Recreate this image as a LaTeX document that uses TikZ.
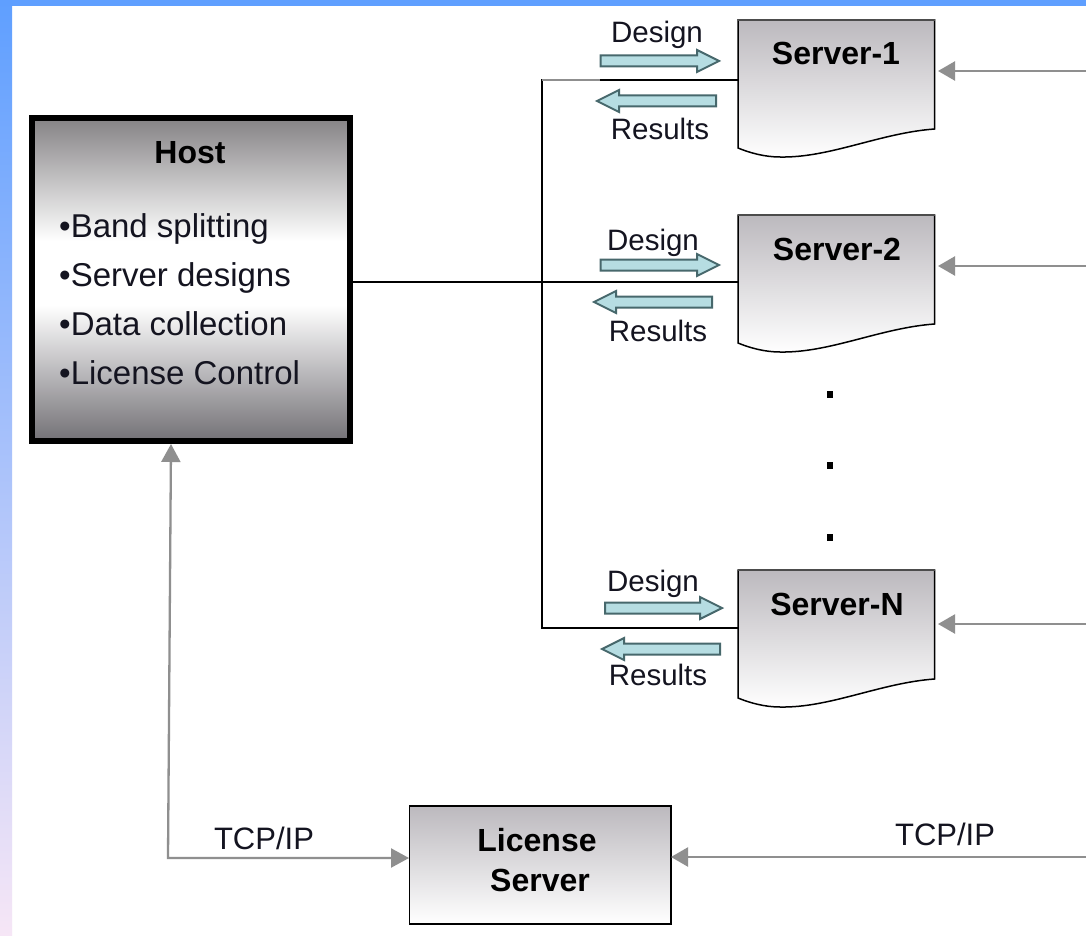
\documentclass[tikz,border=0pt]{standalone}
\usepackage{fontspec}
\setmainfont{Liberation Sans}
\usetikzlibrary{arrows.meta}
\definecolor{bgblue}{HTML}{5F9FFF}
\definecolor{bgpink}{HTML}{F6E6F6}
\definecolor{boxgray}{HTML}{BCB9BE}
\definecolor{hostgray}{HTML}{858385}
\definecolor{hostdark}{HTML}{737176}
\definecolor{linegray}{HTML}{8F8F8F}
\definecolor{arrowfill}{HTML}{B6DDE2}
\definecolor{arrowedge}{HTML}{47686C}
\definecolor{inktext}{HTML}{141420}
\pgfdeclareverticalshading{hostshade}{100bp}{
  color(0bp)=(hostdark); color(25bp)=(hostdark); color(46bp)=(white);
  color(56bp)=(white); color(75bp)=(hostgray); color(100bp)=(hostgray)}
\tikzset{
  x=1pt,y=-1pt,
  txt/.style={font=\fontsize{#1}{#1}\selectfont,text=inktext,inner sep=0pt,anchor=center},
  label/.style={txt=29.5},
  bullet/.style={txt=33,anchor=base west},
  head/.style={font=\fontsize{32}{32}\bfseries\selectfont,text=black,inner sep=0pt,anchor=center},
  anchorbox/.style={draw=none,inner sep=0pt,outer sep=0pt,rectangle},
  boxshade/.style={top color=boxgray,bottom color=white,shading angle=0},
  greyarrow/.style={draw=linegray,line width=2.3pt,-{Triangle[length=17pt,width=19pt,color=linegray]}},
  feed/.style={draw=black,line width=2pt},
  blockarrow/.style={draw=arrowedge,fill=arrowfill,line width=2pt,line join=miter},
  dotmark/.style={fill=black,inner sep=0pt,minimum width=6pt,minimum height=7pt,rectangle},
}
% #1 name, #2 top y, #3 label, #4 label y, #5 label x
\newcommand{\serverdoc}[5]{%
  \path[boxshade,draw=black,line width=1.5pt]
    (738,#2) -- (934.5,#2) -- (934.5,#2+109)
    .. controls (880,#2+113) and (830,#2+138) .. (780,#2+137)
    .. controls (765,#2+137) and (750,#2+133) .. (738,#2+128) -- cycle;
  \draw[draw=black!70,line width=2.2pt] (738,#2) -- (934.5,#2);
  \node[anchorbox,minimum width=197pt,minimum height=128pt,anchor=north west] (#1) at (738,#2) {};
  \node[head] (#1t) at (#5,#4) {#3};
}
% #1 x tail, #2 x tip, #3 y
\newcommand{\rarrow}[3]{%
  \draw[blockarrow] (#1,#3-5.5) -- (#2-22,#3-5.5) -- (#2-22,#3-11) -- (#2,#3) -- (#2-22,#3+11) -- (#2-22,#3+5.5) -- (#1,#3+5.5) -- cycle;}
\newcommand{\larrow}[3]{%
  \draw[blockarrow] (#1,#3-5.5) -- (#2+22,#3-5.5) -- (#2+22,#3-11) -- (#2,#3) -- (#2+22,#3+11) -- (#2+22,#3+5.5) -- (#1,#3+5.5) -- cycle;}
\begin{document}
\begin{tikzpicture}
\useasboundingbox (0,0) rectangle (1086,936);
\fill[white] (0,0) rectangle (1086,936);
\shade[top color=bgblue,bottom color=bgpink,shading angle=0] (0,0) rectangle (12,936);
\fill[bgblue] (0,0) rectangle (1086,6);

% Host
\node[anchorbox,minimum width=323pt,minimum height=330pt,anchor=north west] (host) at (29,114) {};
\path[shading=hostshade,draw=black,line width=6.5pt] (32,118) rectangle (350,441);
\node[head] (hostt) at (190,153) {Host};
\node[bullet] (b1) at (59,237) {•Band splitting};
\node[bullet] (b2) at (59,286) {•Server designs};
\node[bullet] (b3) at (59,335) {•Data collection};
\node[bullet] (b4) at (59,384) {•License Control};

% Servers
\serverdoc{s1}{20}{Server-1}{53}{836}
\serverdoc{s2}{215}{Server-2}{249}{837}
\serverdoc{sn}{570}{Server-N}{604}{837}

% Licence server
\node[anchorbox,minimum width=262pt,minimum height=118pt,anchor=north west] (lic) at (409,806) {};
\path[boxshade,draw=black,line width=1.6pt] (409.5,806) rectangle (671,924);
\node[head] (lict1) at (537,840) {License};
\node[head] (lict2) at (540,880) {Server};

% Bus
\coordinate (busN) at (542,80);
\coordinate (busS) at (542,628);
\draw[feed] (s1.west |- busN) -- (busN) -- (busS) -- (sn.west |- busS);
\draw[draw=linegray,line width=2pt] (busN) -- (600,80);
\coordinate (hostout) at (352,282);
\draw[feed] (hostout) -- (s2.west |- hostout);

% Grey feeds from the right
\coordinate (r1) at (1086,71);
\coordinate (r2) at (1086,266);
\coordinate (rn) at (1086,624);
\coordinate (rl) at (1086,857);
\draw[greyarrow,shorten >=3pt] (r1) -- (s1.east |- r1);
\draw[greyarrow,shorten >=3pt] (r2) -- (s2.east |- r2);
\draw[greyarrow,shorten >=3pt] (rn) -- (sn.east |- rn);
\draw[greyarrow,shorten >=0pt] (rl) -- (lic.east |- rl);

% Licence link to host
\coordinate (corner) at (168,858);
\coordinate (hostin) at (171,444);
\draw[draw=linegray,line width=2.3pt,{Triangle[length=18pt,width=19pt,color=linegray]}-{Triangle[length=18pt,width=19pt,color=linegray]}]
  (hostin) -- (corner) -- (lic.west |- corner);

% Block arrows
\rarrow{600.5}{719}{61}
\larrow{716}{597}{101}
\rarrow{600.5}{719}{265}
\larrow{712}{594}{302}
\rarrow{605}{722}{608}
\larrow{720}{602}{649}

% Labels
\node[label] (d1) at (657,35) {Design};
\node[label] (r1t) at (660,129) {Results};
\node[label] (d2) at (653,243) {Design};
\node[label] (r2t) at (658,331) {Results};
\node[label] (d3) at (653,584) {Design};
\node[label] (r3t) at (658,675) {Results};
\node[txt=31] (t1) at (264,838) {TCP/IP};
\node[txt=31] (t2) at (945,834) {TCP/IP};

% Dots
\node[dotmark] (dot1) at (830,394) {};
\node[dotmark] (dot2) at (830,465) {};
\node[dotmark] (dot3) at (830,537) {};
\end{tikzpicture}
\end{document}
